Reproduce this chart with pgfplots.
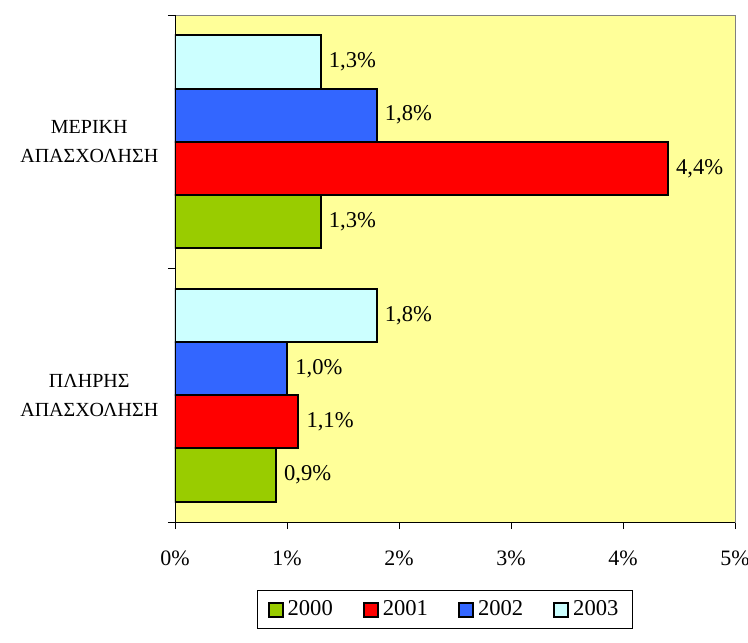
\documentclass[border=0pt]{standalone}
\usepackage{fontspec}
\setmainfont{Liberation Serif}
\usepackage{pgfplots}
\pgfplotsset{compat=1.18}
\definecolor{c2000}{HTML}{99CC00}
\definecolor{c2001}{HTML}{FF0000}
\definecolor{c2002}{HTML}{3366FF}
\definecolor{c2003}{HTML}{CCFFFF}
\definecolor{bg}{HTML}{FFFF99}
\begin{document}
\fontsize{11}{13}\selectfont
\begin{tikzpicture}
\begin{axis}[
  at={(0,0)}, anchor=south west,
  xbar, scale only axis, width=280pt, height=253.5pt,
  xmin=0, xmax=5, ymin=-0.5, ymax=1.5,
  axis background/.style={fill=bg},
  axis line style={draw=gray},
  xtick={0,1,2,3,4,5},
  xticklabels={0\%,1\%,2\%,3\%,4\%,5\%},
  xtick pos=left, tick align=outside,
  major tick length=3.5pt,
  xtick style={black, thin},
  xticklabel style={yshift=-7pt},
  ytick={0,1},
  yticklabels={{ΠΛΗΡΗΣ\\ΑΠΑΣΧΟΛΗΣΗ},{ΜΕΡΙΚΗ\\ΑΠΑΣΧΟΛΗΣΗ}},
  yticklabel style={align=center, font=\fontsize{10}{14.5}\selectfont, xshift=-1pt},
  ytick style={draw=none},
  ytick pos=left,
  extra y ticks={-0.5,0.5,1.5},
  extra y tick labels={},
  extra y tick style={ytick style={draw=black, thin}},
  bar width=0.21,
  point meta=x,
  nodes near coords={\pgfmathprintnumber[fixed,fixed zerofill,precision=1,use comma,assume math mode=true]{\pgfplotspointmeta}\%},
  every node near coord/.append style={font=\fontsize{11.3}{13}\selectfont, black},
  legend columns=4,
  legend image code/.code={\draw[#1, line width=1pt] (0pt,-3.5pt) rectangle (7pt,3.5pt);},
  legend style={at={(0.4822,0)}, anchor=north, yshift=-34pt, draw=black, thin,
    font=\fontsize{11.3}{13}\selectfont, inner xsep=5pt, inner ysep=3pt,
    /tikz/every even column/.append style={column sep=13pt}},
]
\addplot[fill=c2000, draw=black, line width=1pt, bar shift=-0.315] coordinates {(0.9,0) (1.3,1)};
\addplot[fill=c2001, draw=black, line width=1pt, bar shift=-0.105] coordinates {(1.1,0) (4.4,1)};
\addplot[fill=c2002, draw=black, line width=1pt, bar shift=0.105] coordinates {(1.0,0) (1.8,1)};
\addplot[fill=c2003, draw=black, line width=1pt, bar shift=0.315] coordinates {(1.8,0) (1.3,1)};
\legend{2000,2001,2002,2003}
\draw[black, thin] (rel axis cs:0,1) -- (rel axis cs:0,0) -- (rel axis cs:1,0);
\end{axis}
\pgfresetboundingbox
\path (-87.5pt,-60pt) rectangle (286.5pt,261pt);
\end{tikzpicture}
\end{document}
